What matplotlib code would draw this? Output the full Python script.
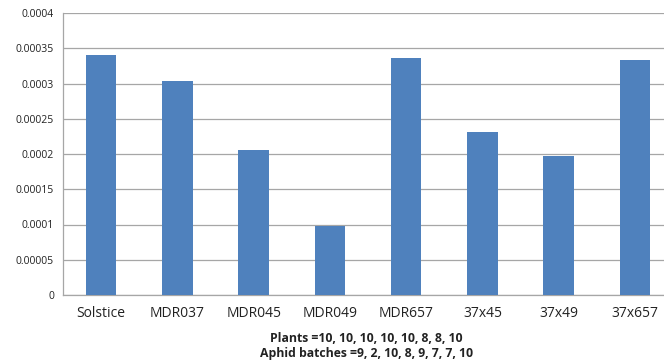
import matplotlib
matplotlib.use("Agg")
import matplotlib.pyplot as plt

categories = ["Solstice", "MDR037", "MDR045", "MDR049", "MDR657", "37x45", "37x49", "37x657"]
values = [0.000341, 0.000304, 0.000205, 0.0000985, 0.000336, 0.000231, 0.000197, 0.000334]
yticks = [0, 0.00005, 0.0001, 0.00015, 0.0002, 0.00025, 0.0003, 0.00035, 0.0004]
ytick_labels = ["0", "0.00005", "0.0001", "0.00015", "0.0002", "0.00025", "0.0003", "0.00035", "0.0004"]
footer = ["Plants =10, 10, 10, 10, 10, 8, 8, 10", "Aphid batches =9, 2, 10, 8, 9, 7, 7, 10"]

plt.rcParams['font.family'] = ['Open Sans', 'DejaVu Sans']

fig = plt.figure(figsize=(6.64, 3.62), dpi=100)
ax = fig.add_axes([63/664, 67/362, 610/664, 282/362])
x = list(range(len(categories)))
ax.bar(x, values, width=0.4, color="#4F81BD", zorder=3)
ax.set_xlim(-0.5, len(categories) - 0.5)
ax.set_ylim(0, 0.0004)
ax.set_yticks(yticks)
ax.set_yticklabels(ytick_labels, fontsize=7.5, color="#222222")
ax.set_xticks(x)
ax.set_xticklabels(categories, fontsize=10, color="#222222")
ax.tick_params(axis="both", length=0)
ax.tick_params(axis="y", pad=6.5)
ax.tick_params(axis="x", pad=8)
ax.grid(axis="y", color="#A6A6A6", linewidth=0.9, zorder=0)
for s in ["top", "right"]:
    ax.spines[s].set_visible(False)
for s in ["left", "bottom"]:
    ax.spines[s].set_color("#A6A6A6")
    ax.spines[s].set_linewidth(0.9)

fig.text(366/664, 1 - 338/362, footer[0], ha="center", va="center", fontsize=8.8, fontweight="bold", color="#222222")
fig.text(366/664, 1 - 354/362, footer[1], ha="center", va="center", fontsize=8.8, fontweight="bold", color="#222222")

fig.savefig("out.png", dpi=100)
